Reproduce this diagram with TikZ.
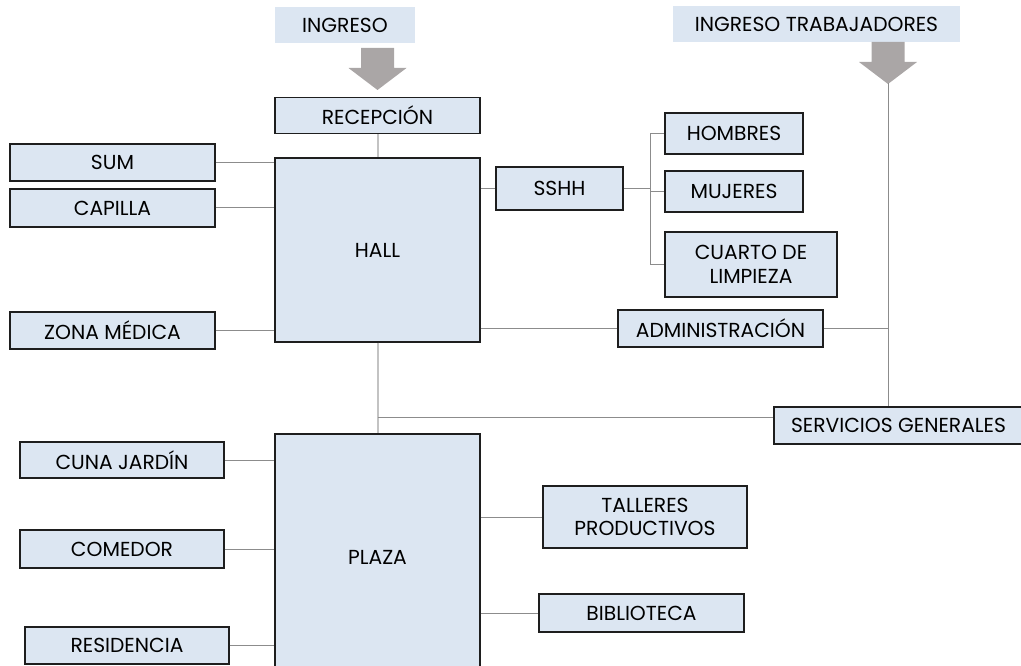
\documentclass[tikz,border=0pt]{standalone}
\usepackage{fontspec}
\setmainfont{Poppins}
\usetikzlibrary{positioning}
\newlength{\du}
\setlength{\du}{0.75pt}
\definecolor{boxblue}{RGB}{220,230,242}
\definecolor{boxline}{RGB}{30,30,30}
\definecolor{arrowgray}{RGB}{170,166,166}
\definecolor{linkgray}{RGB}{140,140,140}
\definecolor{trunkgray}{RGB}{195,195,195}
\tikzset{
  room/.style={draw=boxline, fill=boxblue, line width=1.4\du, inner sep=0pt,
    align=center, font=\fontsize{15.2}{17.5}\selectfont},
  tag/.style={fill=boxblue, inner sep=0pt, font=\fontsize{15.2}{17.5}\selectfont},
  link/.style={draw=linkgray, line width=1\du},
  trunk/.style={draw=trunkgray, line width=2\du},
}
\newcommand{\bigarrow}[2]{% center x, top y
  \fill[arrowgray] (#1-16.5,#2) -- (#1+16.5,#2) -- (#1+16.5,#2+20) -- (#1+29,#2+20)
    -- (#1,#2+42) -- (#1-29,#2+20) -- (#1-16.5,#2+20) -- cycle;}

\begin{document}
\begin{tikzpicture}[x=\du, y=-\du]
\useasboundingbox (0,0) rectangle (1021,666);

% entradas
\node[tag, minimum width=140\du, minimum height=36\du] (ingreso) at (345,25) {INGRESO};
\node[tag, minimum width=287\du, minimum height=36\du] (ingtrab) at (816.5,24) {INGRESO TRABAJADORES};
\bigarrow{377.5}{48}
\bigarrow{888}{42}
\coordinate (ttip) at (888,83);

% bloque central
\node[room, minimum width=205\du, minimum height=36\du] (recepcion) at (377.5,115.5) {RECEPCIÓN};
\node[room, minimum width=205\du, minimum height=184\du] (hall) at (377.5,250) {HALL};
\node[room, minimum width=205\du, minimum height=246\du] (plaza) at (377.5,557) {PLAZA};

% lado izquierdo
\node[room, minimum width=205\du, minimum height=37\du] (sum) at (112.5,162.5) {SUM};
\node[room, minimum width=205\du, minimum height=38\du] (capilla) at (112.5,208) {CAPILLA};
\node[room, minimum width=205\du, minimum height=37\du] (zonamed) at (112.5,330.5) {ZONA MÉDICA};
\node[room, minimum width=204\du, minimum height=36\du] (cuna) at (122,460) {CUNA JARDÍN};
\node[room, minimum width=204\du, minimum height=38\du] (comedor) at (122,549) {COMEDOR};
\node[room, minimum width=204\du, minimum height=37\du] (residencia) at (127,645.5) {RESIDENCIA};

% lado derecho
\node[room, minimum width=127\du, minimum height=43\du] (sshh) at (559.5,188.5) {SSHH};
\node[room, minimum width=138\du, minimum height=41\du] (hombres) at (734,133.5) {HOMBRES};
\node[room, minimum width=138\du, minimum height=41\du] (mujeres) at (734,191.5) {MUJERES};
\node[room, minimum width=172\du, minimum height=65\du] (cuarto) at (751,264.5) {CUARTO DE\\LIMPIEZA};
\node[room, minimum width=205\du, minimum height=37\du] (admin) at (720.5,328.5) {ADMINISTRACIÓN};
\node[room, minimum width=249\du, minimum height=37\du] (servicios) at (898.5,425.5) {SERVICIOS GENERALES};
\node[room, minimum width=204\du, minimum height=62\du] (talleres) at (645,517) {TALLERES\\PRODUCTIVOS};
\node[room, minimum width=205\du, minimum height=38\du] (biblioteca) at (641.5,613) {BIBLIOTECA};

% conexiones
\draw[trunk] (recepcion.south) -- (hall.north);
\draw[trunk] (hall.south) -- (plaza.north);
\coordinate (junct) at (377.5,418);
\draw[link] (junct) -- (junct -| servicios.west);
\draw[link] (ttip) -- (ttip |- servicios.north);
\draw[link] (admin.east) -- (admin.east -| ttip);
\draw[link] (hall.east |- admin.west) -- (admin.west);
\draw[link] (hall.east |- sshh.west) -- (sshh.west);
\coordinate (sbus) at (650,188);
\draw[link] (sshh.east) -- (sshh.east -| sbus);
\draw[link] (sbus |- hombres.west) -- (sbus |- cuarto.west);
\draw[link] (sbus |- hombres.west) -- (hombres.west);
\draw[link] (sbus |- mujeres.west) -- (mujeres.west);
\draw[link] (sbus |- cuarto.west) -- (cuarto.west);
\draw[link] (sum.east) -- (sum.east -| hall.west);
\draw[link] (capilla.east) -- (capilla.east -| hall.west);
\draw[link] (zonamed.east) -- (zonamed.east -| hall.west);
\draw[link] (cuna.east) -- (cuna.east -| plaza.west);
\draw[link] (comedor.east) -- (comedor.east -| plaza.west);
\draw[link] (residencia.east) -- (residencia.east -| plaza.west);
\draw[link] (plaza.east |- talleres.west) -- (talleres.west);
\draw[link] (plaza.east |- biblioteca.west) -- (biblioteca.west);
\end{tikzpicture}
\end{document}
